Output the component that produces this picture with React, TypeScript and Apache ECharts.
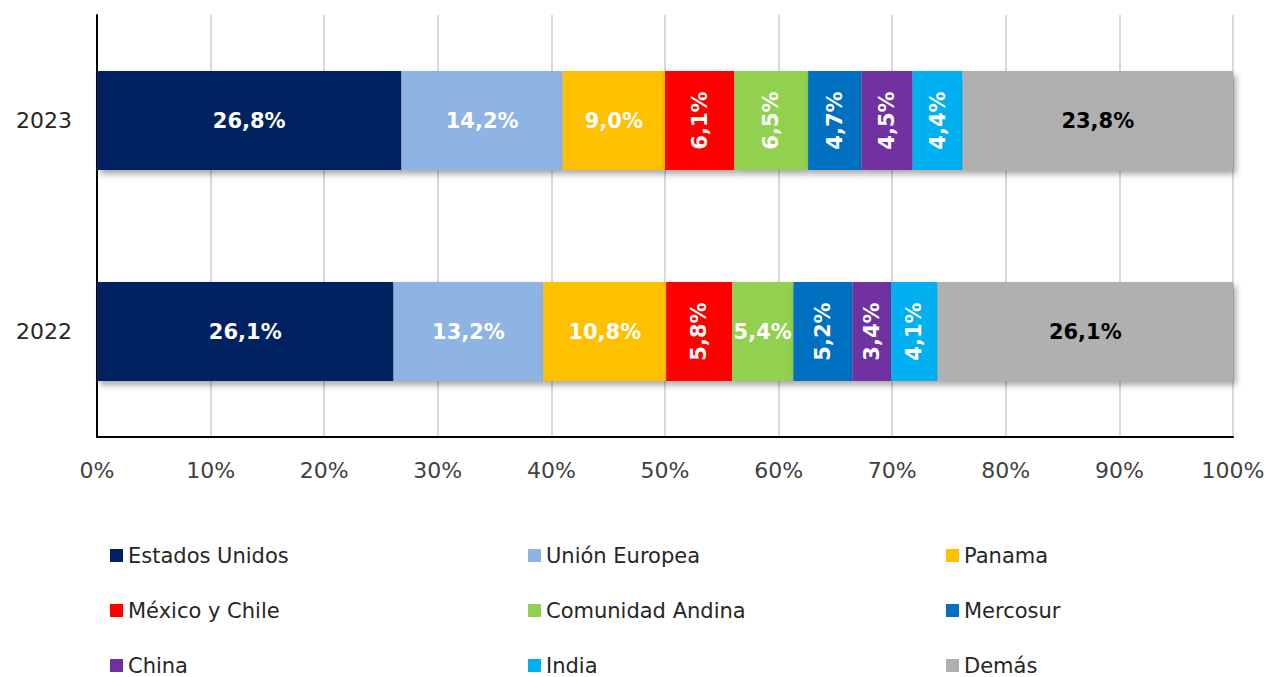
import React, { useEffect, useRef } from "react";
import * as echarts from "echarts";

const years = ["2022", "2023"];
const regions = [
  "Estados Unidos",
  "Unión Europea",
  "Panama",
  "México y Chile",
  "Comunidad Andina",
  "Mercosur",
  "China",
  "India",
  "Demás",
];
// values per region: [2022, 2023]
const estadosUnidos = [26.1, 26.8];
const unionEuropea = [13.2, 14.2];
const panama = [10.8, 9.0];
const mexicoChile = [5.8, 6.1];
const comunidadAndina = [5.4, 6.5];
const mercosur = [5.2, 4.7];
const china = [3.4, 4.5];
const india = [4.1, 4.4];
const demas = [26.1, 23.8];
const values = [estadosUnidos, unionEuropea, panama, mexicoChile, comunidadAndina, mercosur, china, india, demas];

const colors = ["#002060", "#8EB4E3", "#FFC000", "#FF0000", "#92D050", "#0070C0", "#7030A0", "#00B0F0", "#B0B0B0"];
// whether the label is written vertically: [2022, 2023]
const vertical = [
  [false, false],
  [false, false],
  [false, false],
  [true, true],
  [false, true],
  [true, true],
  [true, true],
  [true, true],
  [false, false],
];
const xTicks = [0, 10, 20, 30, 40, 50, 60, 70, 80, 90, 100];

const legendCols = [
  ["Estados Unidos", "México y Chile", "China"],
  ["Unión Europea", "Comunidad Andina", "India"],
  ["Panama", "Mercosur", "Demás"],
];
const legendLefts = [110, 528, 946];

const FONT = "'DejaVu Sans', sans-serif";

export default function App() {
  const ref = useRef<HTMLDivElement>(null);
  useEffect(() => {
    if (!ref.current) return;
    const chart = echarts.init(ref.current, undefined, { renderer: "svg" });
    const series = regions.map((name, i) => ({
      name,
      type: "bar",
      stack: "total",
      barWidth: 99,
      itemStyle: {
        color: colors[i],
        shadowColor: "rgba(0,0,0,0.35)",
        shadowBlur: 6,
        shadowOffsetX: 3,
        shadowOffsetY: 4,
      },
      data: values[i].map((v, j) => ({
        value: v,
        label: {
          show: true,
          position: "inside",
          rotate: vertical[i][j] ? 90 : 0,
          color: name === "Demás" ? "#000000" : "#ffffff",
          fontWeight: "bold",
          fontSize: 21,
          fontFamily: FONT,
          formatter: (p: any) => p.value.toFixed(1).replace(".", ",") + "%",
        },
      })),
    }));
    chart.setOption({
      animation: false,
      backgroundColor: "#ffffff",
      grid: { left: 97, right: 37, top: 15, height: 422 },
      xAxis: {
        type: "value",
        min: 0,
        max: 100,
        interval: 10,
        axisLine: { show: true, lineStyle: { color: "#000", width: 2 } },
        axisTick: { show: false },
        splitLine: { show: true, lineStyle: { color: "#d9d9d9", width: 2 } },
        axisLabel: {
          margin: 22,
          fontSize: 22,
          fontFamily: FONT,
          color: "#404040",
          formatter: (v: number) => (xTicks.includes(v) ? v + "%" : ""),
        },
      },
      yAxis: {
        type: "category",
        data: years,
        axisLine: { show: true, lineStyle: { color: "#000", width: 2 } },
        axisTick: { show: false },
        axisLabel: { margin: 25, fontSize: 22, fontFamily: FONT, color: "#262626" },
      },
      legend: legendCols.map((col, k) => ({
        data: col,
        orient: "vertical",
        left: legendLefts[k],
        top: 545,
        padding: 0,
        itemWidth: 13,
        itemHeight: 13,
        itemGap: 34,
        icon: "rect",
        selectedMode: false,
        textStyle: { fontSize: 21, lineHeight: 21, fontFamily: FONT, color: "#262626" },
      })),
      series,
    });
    return () => chart.dispose();
  }, []);
  return <div ref={ref} style={{ width: 1270, height: 677, position: "absolute", left: 0, top: 0 }} />;
}
